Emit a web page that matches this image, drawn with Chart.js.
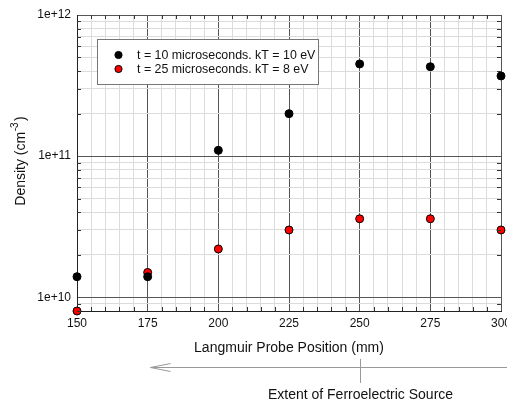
<!DOCTYPE html>
<html><head><meta charset="utf-8">
<script src="https://cdn.jsdelivr.net/npm/chart.js@4.4.1/dist/chart.umd.min.js"></script>
<style>html,body{margin:0;padding:0;background:#fff;overflow:hidden}</style>
</head><body>
<canvas id="c" width="507" height="403"></canvas>
<script>
// ---- data ----
const positions = [150, 175, 200, 225, 250, 275, 300];
const density10us = [1.4e10, 1.4e10, 1.1e11, 2.0e11, 4.5e11, 4.3e11, 3.7e11];
const density25us = [8.0e9, 1.5e10, 2.2e10, 3.0e10, 3.6e10, 3.6e10, 3.0e10];
const seriesLabels = ['t = 10 microseconds. kT = 10 eV', 't = 25 microseconds. kT = 8 eV'];
const xTickLabels = [150, 175, 200, 225, 250, 275, 300];
const yMajorTicks = [1e10, 1e11, 1e12];
const xTitle = 'Langmuir Probe Position (mm)';
const yTitleMain = 'Density (cm';
const yTitleSup = '-3';
const yTitleEnd = ')';
const annotationText = 'Extent of Ferroelectric Source';
const sourceMarkerX = 250;
const arrowStartX = 176;

const FONT = "'Liberation Sans', Arial, sans-serif";
const isMajorY = v => yMajorTicks.some(m => Math.abs(Math.log10(v) - Math.log10(m)) < 1e-6);
const isMajorX = v => xTickLabels.includes(Math.round(v));

const decorPlugin = {
  id: 'decor',
  afterDraw(chart) {
    const ctx = chart.ctx, a = chart.chartArea;
    const xs = chart.scales.x, ys = chart.scales.y;
    ctx.save();
    // inward minor tick marks
    ctx.strokeStyle = '#333'; ctx.lineWidth = 1;
    ctx.beginPath();
    ys.ticks.forEach(t => {
      if (isMajorY(t.value)) return;
      const y = Math.round(ys.getPixelForValue(t.value)) + 0.5;
      ctx.moveTo(a.left, y); ctx.lineTo(a.left + 4, y);
      ctx.moveTo(a.right - 4, y); ctx.lineTo(a.right, y);
    });
    xs.ticks.forEach(t => {
      if (isMajorX(t.value)) return;
      const x = Math.round(xs.getPixelForValue(t.value)) + 0.5;
      ctx.moveTo(x, a.bottom); ctx.lineTo(x, a.bottom - 4);
      ctx.moveTo(x, a.top); ctx.lineTo(x, a.top + 4);
    });
    ctx.stroke();

    // legend box
    const bx = 97.5, by = 39.5, bw = 221, bh = 45;
    ctx.fillStyle = '#fff'; ctx.fillRect(bx, by, bw, bh);
    ctx.strokeStyle = '#777'; ctx.strokeRect(bx, by, bw, bh);
    ctx.font = '12.4px ' + FONT; ctx.textBaseline = 'middle'; ctx.textAlign = 'left';
    chart.data.datasets.forEach((ds, i) => {
      const cy = 55 + i * 14;
      ctx.beginPath(); ctx.arc(118.5, cy, 3.6, 0, Math.PI * 2);
      ctx.fillStyle = ds.backgroundColor; ctx.fill();
      ctx.strokeStyle = '#000'; ctx.lineWidth = 1; ctx.stroke();
      ctx.fillStyle = '#111'; ctx.fillText(ds.label, 137, cy + 0.5);
    });

    // y title with superscript
    ctx.save();
    ctx.translate(21, 161);
    ctx.rotate(-Math.PI / 2);
    ctx.fillStyle = '#111'; ctx.textBaseline = 'middle'; ctx.textAlign = 'left';
    const f1 = '14px ' + FONT, f2 = '10px ' + FONT;
    ctx.font = f1; const w1 = ctx.measureText(yTitleMain).width, w3 = ctx.measureText(yTitleEnd).width;
    ctx.font = f2; const w2 = ctx.measureText(yTitleSup).width;
    let x0 = -(w1 + w2 + w3 + 2) / 2;
    ctx.font = f1; ctx.fillText(yTitleMain, x0, 0);
    ctx.font = f2; ctx.fillText(yTitleSup, x0 + w1 + 0.5, -6);
    ctx.font = f1; ctx.fillText(yTitleEnd, x0 + w1 + w2 + 2, 0);
    ctx.restore();

    // arrow annotation
    const ay = 367.5;
    const ax0 = xs.getPixelForValue(arrowStartX);
    const mx = Math.round(xs.getPixelForValue(sourceMarkerX)) + 0.5;
    ctx.strokeStyle = '#999'; ctx.lineWidth = 1;
    ctx.beginPath();
    ctx.moveTo(ax0, ay); ctx.lineTo(chart.width, ay);
    ctx.moveTo(ax0 + 20, ay - 4); ctx.lineTo(ax0, ay); ctx.lineTo(ax0 + 20, ay + 4);
    ctx.moveTo(mx, 359); ctx.lineTo(mx, 383);
    ctx.stroke();
    ctx.fillStyle = '#111'; ctx.font = '14px ' + FONT;
    ctx.textAlign = 'center'; ctx.textBaseline = 'middle';
    ctx.fillText(annotationText, mx, 395);
    ctx.restore();
  }
};

new Chart(document.getElementById('c'), {
  type: 'scatter',
  data: {
    datasets: [
      { label: seriesLabels[0], data: positions.map((x, i) => ({ x, y: density10us[i] })),
        backgroundColor: '#000', borderColor: '#000', borderWidth: 1, pointRadius: 4, clip: false },
      { label: seriesLabels[1], data: positions.map((x, i) => ({ x, y: density25us[i] })),
        backgroundColor: '#ff0000', borderColor: '#000', borderWidth: 1, pointRadius: 4, clip: false }
    ]
  },
  options: {
    responsive: false, animation: false, devicePixelRatio: 1,
    layout: { padding: { top: 15, right: 6, left: 0, bottom: 0 } },
    plugins: { legend: { display: false }, tooltip: { enabled: false } },
    scales: {
      x: {
        type: 'linear', min: 150, max: 300,
        afterBuildTicks(s) { const t = []; for (let v = 150; v <= 300; v += 5) t.push({ value: v }); s.ticks = t; },
        afterFit(s) { s.height = 92; s.paddingLeft = 0; s.paddingRight = 0; },
        grid: { color: c => isMajorX(c.tick.value) ? '#555' : '#dcdcdc', drawTicks: false, lineWidth: 1 },
        border: { color: '#222' },
        ticks: { autoSkip: false, maxRotation: 0, padding: 5, color: '#111',
          font: { family: FONT, size: 12 },
          callback: v => isMajorX(v) && v % 25 === 0 ? String(v) : '' },
        title: { display: true, text: xTitle, color: '#111', font: { family: FONT, size: 14 },
          padding: { top: 0, bottom: 46.6 } }
      },
      y: {
        type: 'logarithmic', min: 8e9, max: 1e12,
        afterBuildTicks(s) {
          const t = [];
          for (let e = 9; e <= 12; e++) for (let m = 1; m <= 9; m++) {
            const v = m * Math.pow(10, e);
            if (v >= 8e9 * 0.999 && v <= 1e12 * 1.001) t.push({ value: v });
          }
          s.ticks = t;
        },
        afterFit(s) { s.width = 77; s.paddingTop = 0; s.paddingBottom = 0; },
        grid: { color: c => isMajorY(c.tick.value) ? '#555' : '#dcdcdc', drawTicks: false, lineWidth: 1 },
        border: { color: '#222' },
        ticks: { autoSkip: false, padding: 6, color: '#111', font: { family: FONT, size: 12 },
          callback: v => isMajorY(v) ? '1e+' + Math.round(Math.log10(v)) : '' }
      }
    }
  },
  plugins: [decorPlugin]
});
</script>
</body></html>
